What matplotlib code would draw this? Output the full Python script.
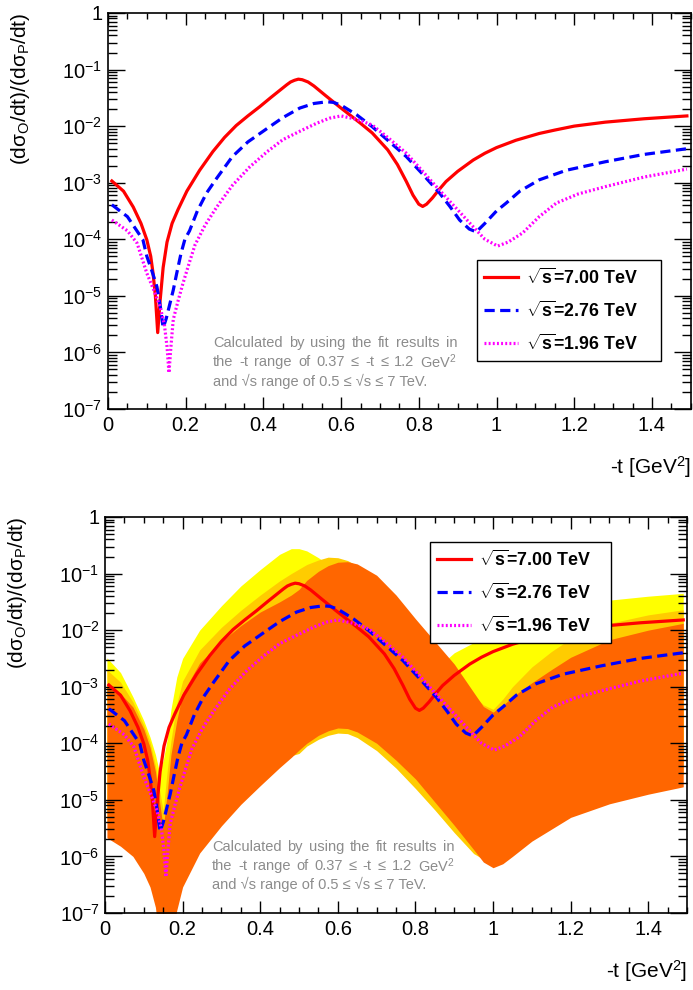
import numpy as np
import matplotlib
matplotlib.use('Agg')
import matplotlib.pyplot as plt
from matplotlib.ticker import MultipleLocator, LogLocator, FuncFormatter, NullFormatter

plt.rcParams['font.family'] = ['Liberation Sans', 'DejaVu Sans']
plt.rcParams['mathtext.fontset'] = 'custom'
plt.rcParams['mathtext.rm'] = 'Liberation Sans'
plt.rcParams['mathtext.it'] = 'Liberation Sans:italic'
plt.rcParams['mathtext.bf'] = 'Liberation Sans:bold'
plt.rcParams['mathtext.default'] = 'regular'

# curves, values given as log10 of the ratio
x_7 = [0.01, 0.04, 0.065, 0.085, 0.10, 0.11, 0.116, 0.122, 0.128, 0.134, 0.142, 0.152,
       0.165, 0.18, 0.203, 0.236, 0.27, 0.30, 0.33, 0.36, 0.39, 0.42, 0.44, 0.46, 0.47,
       0.48, 0.49, 0.50, 0.515, 0.53, 0.56, 0.596, 0.622, 0.65, 0.68, 0.72, 0.745, 0.768,
       0.785, 0.80, 0.81, 0.82, 0.835, 0.85, 0.87, 0.9, 0.94, 0.97, 1.0, 1.05, 1.11, 1.15,
       1.2, 1.28, 1.38, 1.49]
exp_7 = [-2.97, -3.15, -3.43, -3.72, -4.01, -4.3, -4.6, -5.0, -5.65, -5.1, -4.5, -4.05,
         -3.72, -3.48, -3.15, -2.78, -2.45, -2.2, -1.99, -1.82, -1.66, -1.49, -1.38, -1.27, -1.22,
         -1.19, -1.17, -1.18, -1.22, -1.29, -1.46, -1.66, -1.80, -1.95, -2.12, -2.42, -2.68, -2.98,
         -3.22, -3.38, -3.42, -3.38, -3.27, -3.14, -2.98, -2.8, -2.6, -2.48, -2.38, -2.25, -2.13, -2.07,
         -2.0, -1.93, -1.87, -1.82]

x_276 = [0.01, 0.05, 0.09, 0.10, 0.115, 0.126, 0.135, 0.142, 0.15, 0.159, 0.168, 0.177,
         0.188, 0.198, 0.21, 0.23, 0.254, 0.28, 0.32, 0.36, 0.41, 0.45, 0.494, 0.53, 0.563,
         0.58, 0.6, 0.64, 0.68, 0.72, 0.768, 0.81, 0.853, 0.88, 0.905, 0.93, 0.948, 0.97, 1.0,
         1.025, 1.06, 1.11, 1.18, 1.28, 1.38, 1.49]
exp_276 = [-3.39, -3.6, -4.01, -4.3, -4.6, -4.84, -5.2, -5.57, -5.4, -5.15, -4.9, -4.6,
           -4.25, -4.0, -3.85, -3.5, -3.18, -2.92, -2.54, -2.28, -2.04, -1.85, -1.68, -1.6, -1.57,
           -1.58, -1.63, -1.8, -2.01, -2.25, -2.54, -2.85, -3.18, -3.42, -3.66, -3.82, -3.87, -3.72, -3.5,
           -3.36, -3.15, -2.95, -2.78, -2.63, -2.5, -2.40]

x_196 = [0.01, 0.05, 0.075, 0.10, 0.118, 0.134, 0.145, 0.152, 0.157, 0.162, 0.168, 0.18,
         0.193, 0.21, 0.224, 0.25, 0.28, 0.32, 0.365, 0.41, 0.45, 0.5, 0.537, 0.57, 0.6,
         0.64, 0.68, 0.72, 0.768, 0.81, 0.853, 0.9, 0.94, 0.97, 1.003, 1.03, 1.067, 1.11,
         1.154, 1.21, 1.28, 1.38, 1.49]
exp_196 = [-3.66, -3.85, -4.07, -4.6, -4.9, -5.19, -5.5, -5.9, -6.36, -5.9, -5.42, -5.1,
           -4.78, -4.4, -4.1, -3.75, -3.43, -3.05, -2.72, -2.45, -2.24, -2.07, -1.95, -1.86, -1.82,
           -1.88, -1.98, -2.2, -2.48, -2.8, -3.13, -3.48, -3.78, -4.0, -4.12, -4.05, -3.89, -3.6,
           -3.36, -3.2, -3.07, -2.9, -2.76]

# uncertainty bands (bottom panel), log10 of lower / upper edges
x_band = [0.005, 0.04, 0.072, 0.1, 0.116, 0.13, 0.14, 0.15, 0.16, 0.17, 0.185, 0.2,
          0.244, 0.3, 0.35, 0.4, 0.45, 0.48, 0.5, 0.52, 0.55, 0.575, 0.6, 0.625, 0.65, 0.7,
          0.75, 0.8, 0.85, 0.9, 0.95, 0.975, 1.0, 1.025, 1.05, 1.1, 1.15, 1.2, 1.3, 1.4, 1.49]
band_7_hi = [-2.49, -2.75, -3.18, -3.6, -3.89, -4.2, -4.5, -4.3, -3.94, -3.4, -2.83, -2.5,
             -2.0, -1.57, -1.22, -0.93, -0.66, -0.56, -0.56, -0.6, -0.72, -0.84, -0.97, -1.15, -1.35, -1.8,
             -2.3, -2.75, -2.7, -2.4, -2.22, -2.15, -2.1, -2.02, -1.95, -1.82, -1.7, -1.6, -1.47, -1.4, -1.35]
band_7_lo = [-5.2, -5.3, -5.5, -5.8, -6.0, -6.2, -5.6, -5.5, -5.6, -6.5, -6.4, -6.0,
             -5.4, -5.0, -4.6, -4.3, -4.0, -3.8, -3.7, -3.6, -3.5, -3.45, -3.4, -3.42, -3.45, -3.6,
             -3.9, -4.2, -4.6, -5.0, -5.4, -5.55, -5.7, -5.6, -5.5, -5.2, -5.0, -4.8, -4.6, -4.45, -4.3]
band_276_hi = [-2.70, -2.92, -3.27, -3.68, -3.98, -4.4, -4.8, -5.2, -4.5, -3.95, -3.3, -2.9,
               -2.35, -1.95, -1.65, -1.38, -1.13, -1.0, -0.92, -0.84, -0.76, -0.71, -0.72, -0.77, -0.86, -1.15,
               -1.55, -2.0, -2.45, -2.85, -3.15, -3.32, -3.4, -3.22, -3.0, -2.65, -2.38, -2.15, -1.88, -1.73, -1.64]
band_276_lo = [-5.4, -5.55, -5.7, -6.0, -6.2, -6.6, -7.0, -7.5, -7.5, -7.2, -6.7, -6.3,
               -5.7, -5.25, -4.9, -4.6, -4.35, -4.22, -4.18, -4.05, -3.93, -3.86, -3.82, -3.83, -3.9, -4.13,
               -4.44, -4.8, -5.18, -5.58, -5.95, -6.05, -6.0, -5.95, -5.8, -5.5, -5.3, -5.1, -4.85, -4.7, -4.55]
band_196_hi = [-2.94, -3.12, -3.36, -3.75, -4.07, -4.5, -5.0, -5.5, -4.9, -4.2, -3.6, -3.11,
               -2.58, -2.2, -1.92, -1.68, -1.5, -1.38, -1.28, -1.12, -0.96, -0.86, -0.80, -0.79, -0.83, -1.03,
               -1.38, -1.8, -2.2, -2.6, -3.1, -3.35, -3.45, -3.33, -3.18, -2.93, -2.7, -2.48, -2.17, -2.0, -1.88]
band_196_lo = [-5.67, -5.82, -6.0, -6.3, -6.54, -6.9, -7.5, -8.0, -8.0, -7.5, -6.95, -6.54,
               -5.94, -5.46, -5.08, -4.75, -4.43, -4.25, -4.12, -4.0, -3.86, -3.78, -3.73, -3.74, -3.8, -4.0,
               -4.3, -4.63, -5.04, -5.45, -5.88, -6.1, -6.2, -6.13, -6.0, -5.73, -5.52, -5.31, -5.07, -4.9, -4.77]

labels = [r'$\sqrt{\mathbf{s}}$=7.00 TeV', r'$\sqrt{\mathbf{s}}$=2.76 TeV', r'$\sqrt{\mathbf{s}}$=1.96 TeV']
note = ['Calculated by using the fit results in',
        r'the -t range of 0.37 ≤ -t ≤ 1.2 GeV$^2$',
        'and √s range of 0.5 ≤ √s ≤ 7 TeV.']


def ytick(v, pos):
    e = int(round(np.log10(v)))
    if e == 0:
        return '1'
    return r'$10^{%d}$' % e


def style_axes(ax):
    ax.set_xlim(0, 1.5)
    ax.set_yscale('log')
    ax.set_ylim(1e-7, 1)
    ax.xaxis.set_major_locator(MultipleLocator(0.2))
    ax.xaxis.set_minor_locator(MultipleLocator(0.05))
    ax.xaxis.set_major_formatter(FuncFormatter(lambda v, p: '%g' % round(v, 2)))
    ax.yaxis.set_major_locator(LogLocator(base=10, numticks=20))
    ax.yaxis.set_minor_locator(LogLocator(base=10, subs=np.arange(2, 10), numticks=20))
    ax.yaxis.set_major_formatter(FuncFormatter(ytick))
    ax.yaxis.set_minor_formatter(NullFormatter())
    ax.tick_params(which='both', direction='in', top=True, right=True, labelsize=14.5, width=1)
    ax.tick_params(axis='x', which='major', length=8.5, pad=5)
    ax.tick_params(axis='x', which='minor', length=4)
    ax.tick_params(axis='y', which='major', length=12, pad=4)
    ax.tick_params(axis='y', which='minor', length=6.5)
    for s in ax.spines.values():
        s.set_linewidth(1.2)
    ax.set_ylabel('(dσ$_{O}$/dt)/(dσ$_{P}$/dt)', fontsize=15, loc='top')
    ax.yaxis.set_label_coords(-0.13, 1.0)
    ax.set_xlabel('-t [GeV$^{2}$]', fontsize=15, loc='right')
    ax.xaxis.set_label_coords(1.0, -0.115)


def draw_lines(ax):
    ax.plot(x_7, 10 ** np.array(exp_7), color='#ff0000', lw=2.3, label=labels[0])
    ax.plot(x_276, 10 ** np.array(exp_276), color='#0000ff', lw=2.3,
            linestyle=(0, (3.2, 1.7)), label=labels[1])
    ax.plot(x_196, 10 ** np.array(exp_196), color='#ff00ff', lw=2.3,
            linestyle=(0, (0.6, 0.7)), label=labels[2])


def draw_note(ax, x0, x1, ys):
    # first two lines are spread out to a fixed width, like the original
    renderer = fig.canvas.get_renderer()
    inv = ax.transAxes.inverted()
    for i, (txt, yy) in enumerate(zip(note, ys)):
        if i == 2:
            ax.text(x0, yy, txt, transform=ax.transAxes, fontsize=10.5, color='#8c8c8c',
                    va='center', ha='left')
            continue
        words = txt.split(' ')
        objs = [ax.text(x0, yy, w, transform=ax.transAxes, fontsize=10.5, color='#8c8c8c',
                        va='center', ha='left') for w in words]
        widths = []
        for t in objs:
            bb = t.get_window_extent(renderer)
            p0 = inv.transform((bb.x0, bb.y0))
            p1 = inv.transform((bb.x1, bb.y0))
            widths.append(p1[0] - p0[0])
        gap = (x1 - x0 - sum(widths)) / (len(words) - 1)
        xx = x0
        for t, w in zip(objs, widths):
            t.set_x(xx)
            xx += w + gap


def draw_legend(ax, anchor):
    leg = ax.legend(loc='upper left', bbox_to_anchor=anchor, mode='expand',
                    prop={'weight': 'bold', 'size': 12.8}, frameon=True, fancybox=False,
                    edgecolor='black', framealpha=1, handlelength=1.9, handletextpad=0.45,
                    labelspacing=0.72, borderpad=0.42, borderaxespad=0)
    leg.get_frame().set_linewidth(1.0)


fig = plt.figure(figsize=(6.93, 9.9), dpi=100)

ax1 = fig.add_axes([0.1558, 0.5869, 0.841, 0.4])
draw_lines(ax1)
style_axes(ax1)
draw_note(ax1, 0.18, 0.599, [0.167, 0.119, 0.069])
draw_legend(ax1, (0.633, 0.376, 0.316, 0.0))

ax2 = fig.add_axes([0.1515, 0.0778, 0.84, 0.4])
xb = np.array(x_band)
ax2.fill_between(xb, 10 ** np.array(band_7_lo), 10 ** np.array(band_7_hi), color='#ffff00', lw=0)
ax2.fill_between(xb, 10 ** np.array(band_276_lo), 10 ** np.array(band_276_hi), color='#ffcc00', lw=0)
ax2.fill_between(xb, 10 ** np.array(band_196_lo), 10 ** np.array(band_196_hi), color='#ff6600', lw=0)
draw_lines(ax2)
style_axes(ax2)
draw_note(ax2, 0.184, 0.6, [0.167, 0.119, 0.073])
draw_legend(ax2, (0.558, 0.937, 0.311, 0.0))

fig.savefig('out.png', dpi=100)
